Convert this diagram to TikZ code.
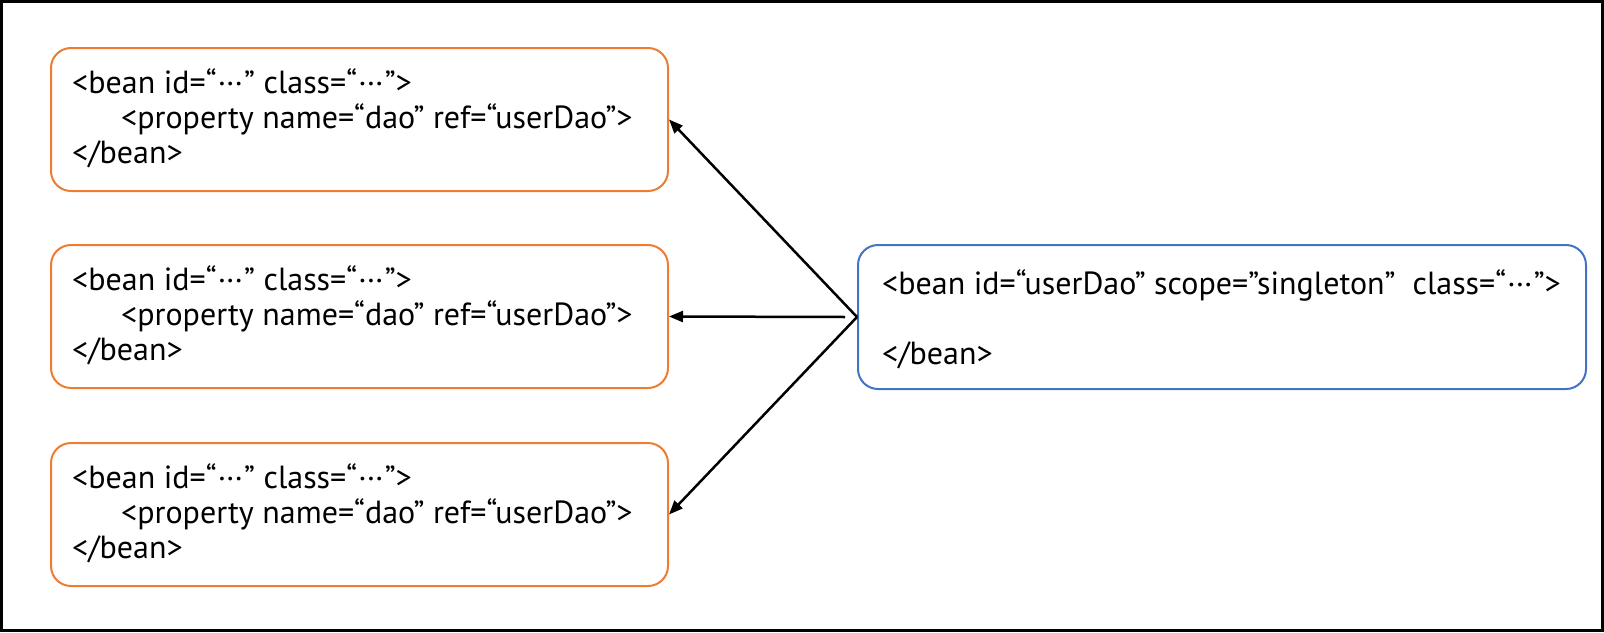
\documentclass[tikz,border=0pt]{standalone}
\usepackage{fontspec}
\setmainfont{PT Sans}
\usetikzlibrary{arrows.meta,calc}
\definecolor{borange}{HTML}{ED7D31}
\definecolor{bblue}{HTML}{4472C4}
\newcommand{\mydots}{\kern2pt\raisebox{0.22em}{.\kern1.5pt.\kern1.5pt.}\kern2pt}
\newcommand{\sq}{\symbol{34}}
\tikzset{
  orangebox/.style={draw=borange, line width=2pt, rounded corners=20pt},
  bluebox/.style={draw=bblue, line width=2pt, rounded corners=20pt},
  codeline/.style={anchor=base west, inner sep=0pt, font=\fontsize{32}{36}\selectfont},
  link/.style={line width=2.5pt, -{Triangle[length=14pt,width=11pt]}}
}
\begin{document}
\begin{tikzpicture}[x=1pt,y=-1pt]
\useasboundingbox (0,0) rectangle (1604,632);
\draw[line width=3pt] (1.5,1.5) rectangle (1602.5,630.5);
% orange boxes
\foreach \i/\top in {1/47,2/244,3/442}{
  \node[orangebox, minimum width=617pt, minimum height=143pt, anchor=north west, inner sep=0pt] (b\i) at (50,\top) {};
  \node[codeline] (b\i l1) at (72,\top+46) {<bean id=“\mydots” class=“\mydots”>};
  \node[codeline] (b\i l2) at (121,\top+81) {<property name=“dao\sq{} ref=“userDao\sq>};
  \node[codeline] (b\i l3) at (72,\top+116) {</bean>};
}
% blue box
\node[bluebox, minimum width=728pt, minimum height=144pt, anchor=north west, inner sep=0pt] (dao) at (857,244) {};
\node[codeline] (daol1) at (882,294) {<bean id=“userDao” scope=\sq singleton\sq\ \ class=“\mydots”>};
\node[codeline] (daol2) at (882,364) {</bean>};
% arrows
\coordinate (src) at (dao.west);
\coordinate (hsrc) at ($(dao.west)+(-12,0)$);
\draw[link] (src) -- (b1.east);
\draw[link] (hsrc) -- (b2.east);
\draw[link] (src) -- (b3.east);
\end{tikzpicture}
\end{document}
